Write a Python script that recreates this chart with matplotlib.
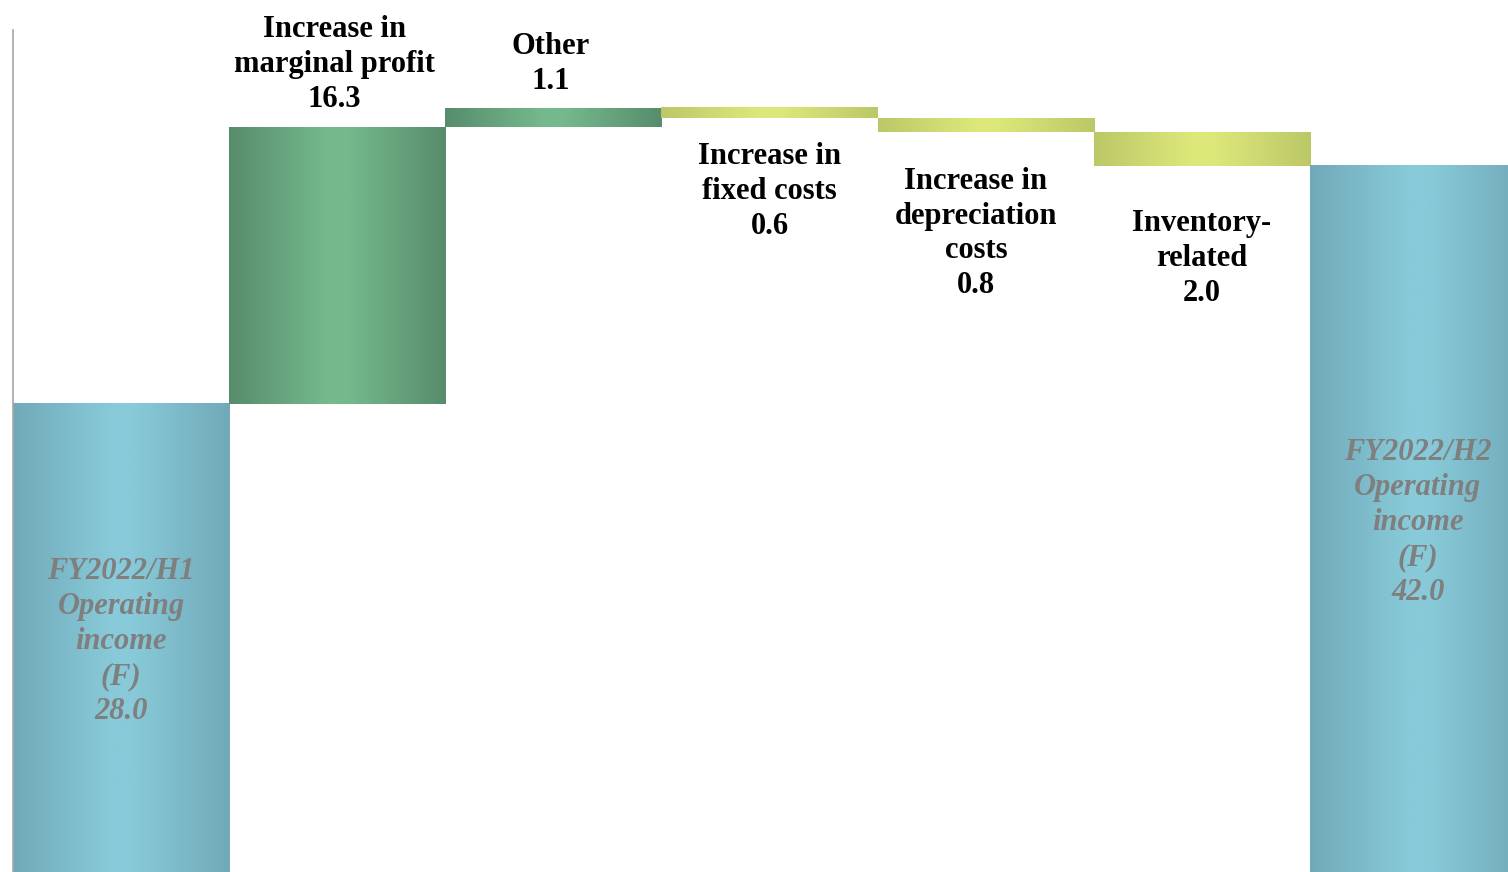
import numpy as np
import matplotlib.pyplot as plt
from matplotlib.colors import LinearSegmentedColormap

plt.rcParams["font.family"] = "Liberation Serif"

# operating income bridge, H1 -> H2 (forecast)
step_names = ['FY2022/H1\nOperating\nincome\n(F)',
              'Increase in\nmarginal profit',
              'Other',
              'Increase in\nfixed costs',
              'Increase in\ndepreciation\ncosts',
              'Inventory-\nrelated',
              'FY2022/H2\nOperating\nincome\n(F)']
start_value = 28.0
changes = [16.3, 1.1, -0.6, -0.8, -2.0]
end_value = 42.0

# edge / centre colours for the cylinder-style shading
shades = {
    'total': ('#71a9b8', '#88cad9'),
    'up': ('#578c6c', '#75b98d'),
    'down': ('#bcc867', '#dde87a'),
}


def shade_cmap(edge, centre):
    return LinearSegmentedColormap.from_list(
        'shade', [(0, edge), (0.45, centre), (0.55, centre), (1, edge)])


grad = np.linspace(0, 1, 256).reshape(1, -1)

fig = plt.figure(figsize=(15.08, 8.72), dpi=100)
ax = fig.add_axes([13 / 1508, -7 / 872, 1513 / 1508, 849 / 872])
ax.set_xlim(-0.5, 6.5)
ax.set_ylim(0, 50)

# bar extents
bottoms, tops, kinds = [0], [start_value], ['total']
level = start_value
for c in changes:
    new = level + c
    bottoms.append(min(level, new))
    tops.append(max(level, new))
    kinds.append('up' if c > 0 else 'down')
    level = new
bottoms.append(0)
tops.append(end_value)
kinds.append('total')

for i, (b, t, k) in enumerate(zip(bottoms, tops, kinds)):
    ax.imshow(grad, cmap=shade_cmap(*shades[k]), aspect='auto',
              extent=(i - 0.5, i + 0.5, b, t), interpolation='bicubic', zorder=2)

LS = 1.27

# labels for the two totals, inside the bars
for i, val in [(0, start_value), (6, end_value)]:
    ax.text(i, val / 2, f'{step_names[i]}\n{val:.1f}', ha='center', va='center',
            fontsize=22, fontweight='bold', style='italic', color='#7f7f7f',
            linespacing=LS, zorder=3)

# labels for the changes: above rising bars, below falling ones
down_off = [(0, -17), (-7, -25), (0, -31)]
k = 0
for j, c in enumerate(changes):
    i = j + 1
    txt = f'{step_names[i]}\n{abs(c):.1f}'
    if c > 0:
        ax.annotate(txt, (i, tops[i]), xytext=(-2, 9), textcoords='offset points',
                    ha='center', va='bottom', fontsize=22, fontweight='bold',
                    linespacing=LS, annotation_clip=False)
    else:
        ax.annotate(txt, (i, bottoms[i]), xytext=down_off[k], textcoords='offset points',
                    ha='center', va='top', fontsize=22, fontweight='bold',
                    linespacing=LS, annotation_clip=False)
        k += 1

for s in ['top', 'right', 'bottom']:
    ax.spines[s].set_visible(False)
ax.spines['left'].set_color('#a6a6a6')
ax.spines['left'].set_linewidth(1.2)
ax.set_xticks([])
ax.set_yticks([])
ax.patch.set_alpha(0)

fig.savefig('out.png', dpi=100)
